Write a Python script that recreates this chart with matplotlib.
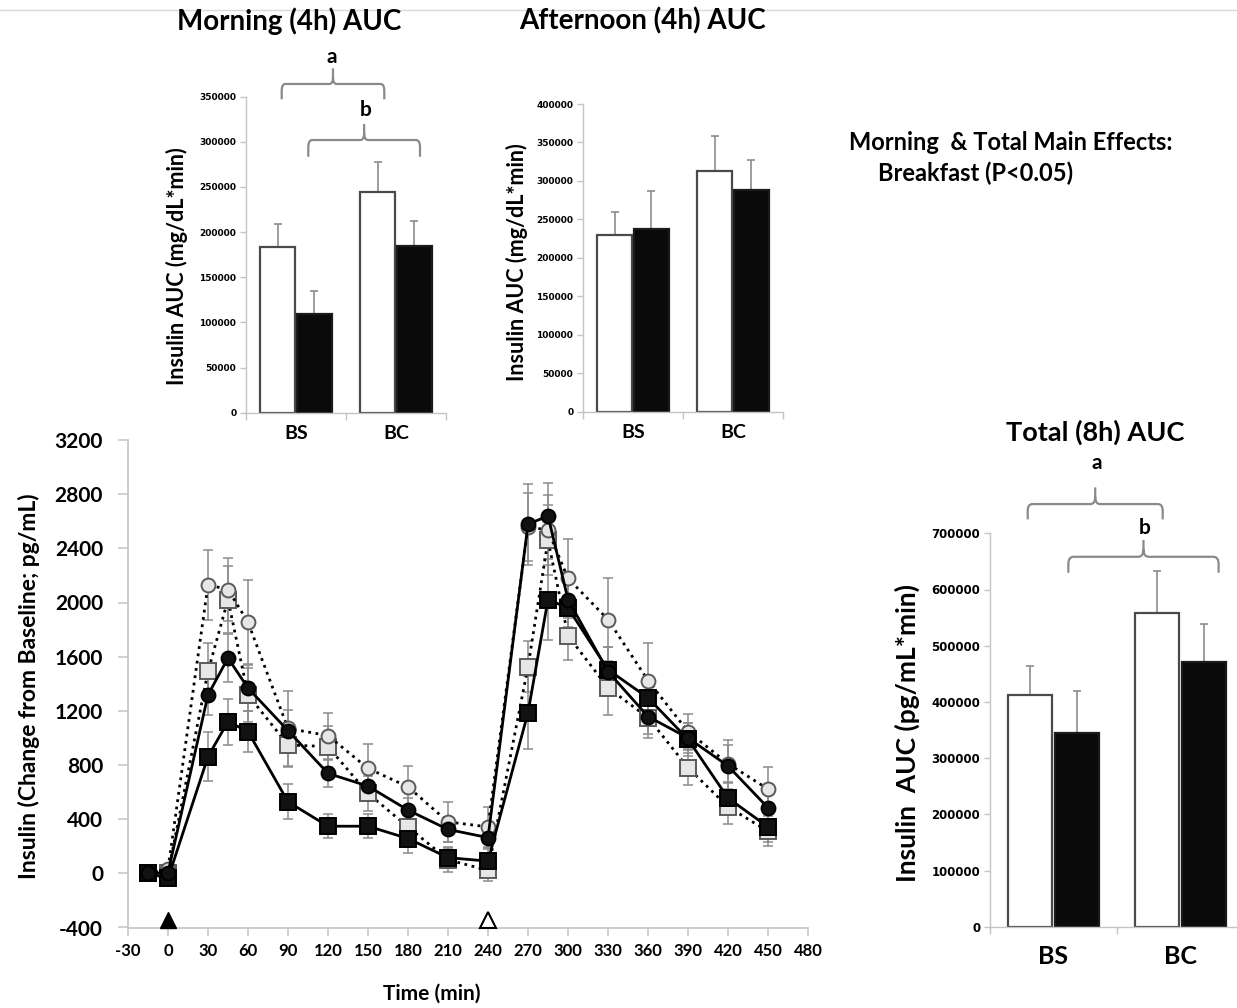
import matplotlib
matplotlib.use("Agg")
import matplotlib.pyplot as plt
from matplotlib.path import Path
from matplotlib.patches import PathPatch
import numpy as np

# ---------------- data ----------------
groups = ["BS", "BC"]

morning_white = [183200, 244800]
morning_white_err = [26000, 32500]
morning_black = [109300, 185000]
morning_black_err = [25800, 27700]

afternoon_white = [229700, 313300]
afternoon_white_err = [29900, 45100]
afternoon_black = [237500, 287800]
afternoon_black_err = [49800, 39400]

total_white = [412000, 557500]
total_white_err = [52300, 75300]
total_black = [345000, 471400]
total_black_err = [74300, 66600]

time = [-15, 0, 30, 45, 60, 90, 120, 150, 180, 210, 240, 270, 285, 300, 330, 360, 390, 420, 450]

white_circle = [0, 30, 2130, 2096, 1854, 1070, 1017, 775, 639, 380, 343, 2560, 2534, 2178, 1874, 1424, 1047, 810, 622]
white_circle_err = [0, 40, 260, 230, 310, 280, 170, 180, 150, 150, 150, 250, 260, 290, 310, 280, 130, 140, 160]

black_circle = [0, 5, 1318, 1590, 1368, 1054, 738, 644, 467, 324, 264, 2578, 2639, 2022, 1490, 1158, 1000, 793, 484]
black_circle_err = [0, 30, 150, 180, 170, 150, 100, 110, 90, 90, 80, 300, 240, 200, 180, 130, 110, 190, 120]

white_square = [0, 0, 1491, 2022, 1318, 948, 936, 590, 343, 100, 22, 1526, 2460, 1755, 1370, 1150, 780, 491, 310]
white_square_err = [0, 40, 210, 250, 200, 160, 150, 130, 120, 90, 80, 190, 260, 180, 200, 150, 130, 130, 110]

black_square = [0, -37, 862, 1121, 1047, 528, 348, 348, 257, 116, 90, 1187, 2022, 1960, 1504, 1296, 990, 556, 343]
black_square_err = [0, 30, 180, 170, 150, 130, 90, 90, 110, 80, 90, 270, 300, 200, 170, 150, 120, 120, 110]

meal_times = [0, 240]

# ---------------- figure ----------------
W, H = 1237, 1008
fig = plt.figure(figsize=(W / 100, H / 100), dpi=100)
FONT = "Lato"
plt.rcParams["font.family"] = [FONT, "DejaVu Sans"]
plt.rcParams["font.weight"] = "bold"


def fr(l, t, r, b):
    return [l / W, 1 - b / H, (r - l) / W, (b - t) / H]


def fx(px):
    return px / W


def fy(py):
    return 1 - py / H


SPINE = "#c4c4c4"
ERR = "#8c8c8c"
BRACE = "#8a8a8a"


def brace(ax, x0, x1, ybot, yh, ypk):
    xm = (x0 + x1) / 2
    dx = (x1 - x0) * 0.035
    dyc = (yh - ybot) * 0.45
    dyp = (ypk - yh) * 0.45
    verts = [
        (x0, ybot), (x0, yh - dyc), (x0, yh), (x0 + dx, yh),
        (xm - dx, yh), (xm, yh), (xm, yh + dyp), (xm, ypk),
        (xm, yh + dyp), (xm, yh), (xm + dx, yh),
        (x1 - dx, yh), (x1, yh), (x1, yh - dyc), (x1, ybot),
    ]
    codes = [Path.MOVETO, Path.LINETO, Path.CURVE3, Path.CURVE3,
             Path.LINETO, Path.CURVE3, Path.CURVE3, Path.LINETO,
             Path.MOVETO, Path.CURVE3, Path.CURVE3,
             Path.LINETO, Path.CURVE3, Path.CURVE3, Path.LINETO]
    p = PathPatch(Path(verts, codes), fill=False, edgecolor=BRACE, lw=1.6,
                  clip_on=False)
    ax.add_patch(p)


def bar_panel(ax, white, white_err, black, black_err, ymax, ystep,
              tick_fs, cat_fs, cat_pad):
    x = np.arange(len(groups))
    off, w = 0.183, 0.345
    ax.bar(x - off, white, w, color="white", edgecolor="#4a4a4a", lw=1.6, zorder=2)
    ax.bar(x + off, black, w, color="#0a0a0a", edgecolor="#1a1a1a", lw=1.6, zorder=2)
    ax.errorbar(x - off, white, yerr=[np.zeros(len(x)), white_err], fmt="none",
                ecolor=ERR, elinewidth=1.2, capsize=3, capthick=1.2, zorder=1)
    ax.errorbar(x + off, black, yerr=[np.zeros(len(x)), black_err], fmt="none",
                ecolor=ERR, elinewidth=1.2, capsize=3, capthick=1.2, zorder=1)
    ax.set_xlim(-0.5, 1.5)
    ax.set_ylim(0, ymax)
    for s in ["top", "right"]:
        ax.spines[s].set_visible(False)
    for s in ["left", "bottom"]:
        ax.spines[s].set_color(SPINE)
        ax.spines[s].set_linewidth(1.0)
    yt = np.arange(0, ymax + 1, ystep)
    ax.set_yticks(yt)
    ax.set_yticklabels([str(int(v)) for v in yt], fontsize=tick_fs,
                       fontweight="bold", family="DejaVu Sans")
    ax.tick_params(axis="y", length=4, width=1, color=SPINE, pad=3)
    ax.set_xticks(x)
    ax.set_xticklabels(groups, fontsize=cat_fs, fontweight="bold")
    ax.tick_params(axis="x", length=0, pad=cat_pad)
    ax.set_xticks([-0.5, 0.5, 1.5], minor=True)
    ax.tick_params(axis="x", which="minor", length=5, width=1, color=SPINE)


# top separator line
fig.add_artist(plt.Line2D([0, 1], [fy(10), fy(10)], color="#d9d9d9", lw=1))

# ---------- Morning ----------
axm = fig.add_axes(fr(246, 96.7, 446, 412.7))
bar_panel(axm, morning_white, morning_white_err, morning_black, morning_black_err,
          350000, 50000, 6.5, 14, 9)
axm.set_ylabel("Insulin AUC (mg/dL*min)", fontsize=15.5, fontweight="bold")
axm.yaxis.set_label_coords(fx(188), fy(266), transform=fig.transFigure)
fig.text(fx(289), fy(21), "Morning (4h) AUC", ha="center", va="center",
         fontsize=20, fontweight="bold")
brace(axm, -0.143, 0.883, 347100, 364100, 381400)
axm.text(0.357, 394300, "a", ha="center", va="center", fontsize=15, fontweight="bold")
brace(axm, 0.123, 1.24, 283500, 302000, 319700)
axm.text(0.697, 335300, "b", ha="center", va="center", fontsize=15, fontweight="bold")

# ---------- Afternoon ----------
axa = fig.add_axes(fr(583, 104, 783, 411.7))
bar_panel(axa, afternoon_white, afternoon_white_err, afternoon_black, afternoon_black_err,
          400000, 50000, 6.5, 14, 9)
axa.set_ylabel("Insulin AUC (mg/dL*min)", fontsize=15.5, fontweight="bold")
axa.yaxis.set_label_coords(fx(528), fy(262), transform=fig.transFigure)
fig.text(fx(643), fy(21), "Afternoon (4h) AUC", ha="center", va="center",
         fontsize=20, fontweight="bold")

# ---------- Total ----------
axt = fig.add_axes(fr(990, 533.3, 1244, 926.7))
bar_panel(axt, total_white, total_white_err, total_black, total_black_err,
          700000, 100000, 8.5, 18, 13)
axt.set_ylabel("Insulin  AUC (pg/mL*min)", fontsize=19, fontweight="bold")
axt.yaxis.set_label_coords(fx(920), fy(733), transform=fig.transFigure)
fig.text(fx(1095), fy(432), "Total (8h) AUC", ha="center", va="center",
         fontsize=19.5, fontweight="bold")
brace(axt, -0.203, 0.86, 724800, 752000, 781700)
axt.text(0.34, 824400, "a", ha="center", va="center", fontsize=15, fontweight="bold")
brace(axt, 0.117, 1.30, 629800, 658200, 688000)
axt.text(0.72, 708700, "b", ha="center", va="center", fontsize=15, fontweight="bold")

# ---------- note ----------
fig.text(fx(849), fy(143), "Morning  & Total Main Effects:", ha="left", va="center",
         fontsize=17, fontweight="bold")
fig.text(fx(878), fy(173), "Breakfast (P<0.05)", ha="left", va="center",
         fontsize=17, fontweight="bold")

# ---------- Main time course ----------
ax = fig.add_axes(fr(128, 440, 808, 927.5))
series = [
    (white_square, white_square_err, "s", "#e6e6e6", "#5a5a5a", ":", 11.5, 2),
    (white_circle, white_circle_err, "o", "#e6e6e6", "#5a5a5a", ":", 10, 3),
    (black_square, black_square_err, "s", "#111111", "#000000", "-", 11.5, 4),
    (black_circle, black_circle_err, "o", "#111111", "#000000", "-", 10, 5),
]
for vals, err, m, fc, ec, ls, ms, z in series:
    ax.errorbar(time, vals, yerr=err, fmt="none", ecolor=ERR, elinewidth=1.1,
                capsize=3.5, capthick=1.1, zorder=1)
for vals, err, m, fc, ec, ls, ms, z in series:
    ax.plot(time, vals, linestyle=ls, color="black", lw=2.0, marker=m, ms=ms,
            mfc=fc, mec=ec, mew=1.4, zorder=z)

ax.plot(meal_times[:1], [-345], linestyle="none", marker="^", ms=11, mfc="black",
        mec="black", clip_on=False, zorder=6)
ax.plot(meal_times[1:], [-345], linestyle="none", marker="^", ms=11, mfc="white",
        mec="black", mew=1.5, clip_on=False, zorder=6)

ax.set_xlim(-30, 480)
ax.set_ylim(-400, 3200)
for s in ["top", "right"]:
    ax.spines[s].set_visible(False)
for s in ["left", "bottom"]:
    ax.spines[s].set_color(SPINE)
    ax.spines[s].set_linewidth(1.2)
ax.set_xticks(np.arange(-30, 481, 30))
ax.set_xticklabels([str(v) for v in range(-30, 481, 30)], fontsize=12, fontweight="bold")
ax.set_yticks(np.arange(-400, 3201, 400))
ax.set_yticklabels([str(v) for v in range(-400, 3201, 400)], fontsize=15, fontweight="bold")
ax.tick_params(axis="x", length=6, width=1.1, color=SPINE, pad=5)
ax.tick_params(axis="y", length=7, width=1.1, color=SPINE, pad=11)
ax.set_xlabel("Time (min)", fontsize=15, fontweight="bold")
ax.xaxis.set_label_coords(fx(432), fy(984), transform=fig.transFigure)
ax.set_ylabel("Insulin (Change from Baseline; pg/mL)", fontsize=16.5, fontweight="bold")
ax.yaxis.set_label_coords(fx(40), fy(686), transform=fig.transFigure)

fig.savefig("out.png", dpi=100)
